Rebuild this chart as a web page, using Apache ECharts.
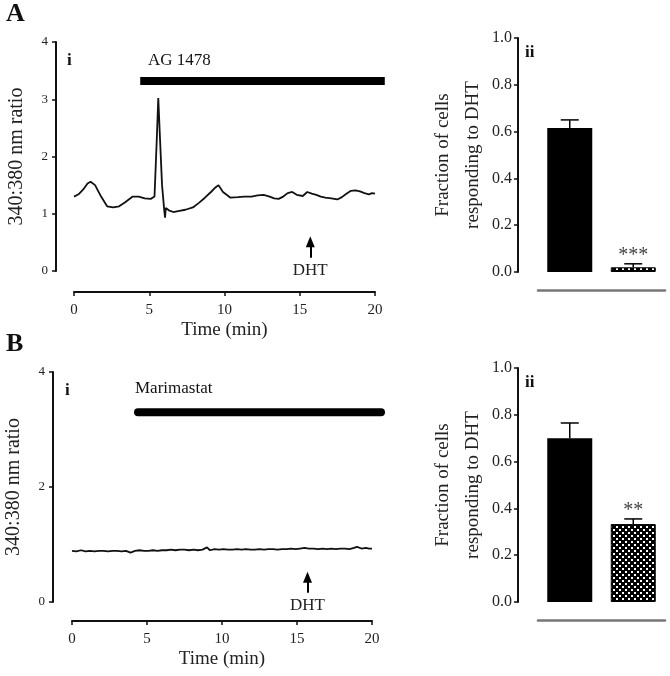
<!DOCTYPE html>
<html><head><meta charset="utf-8">
<script src="https://cdn.jsdelivr.net/npm/echarts@6/dist/echarts.min.js"></script>
<style>html,body{margin:0;padding:0;background:#fff}#c{width:670px;height:676px}</style>
</head><body><div id="c"></div>
<script>
// ---------- DATA ----------
const traceA = [[0,1.30],[0.3,1.34],[0.6,1.42],[0.9,1.53],[1.1,1.56],[1.4,1.50],[1.8,1.30],[2.2,1.13],[2.6,1.11],[3.0,1.13],[3.4,1.20],[3.9,1.30],[4.3,1.30],[4.7,1.27],[5.1,1.26],[5.35,1.30],[5.5,2.30],[5.6,3.02],[5.7,2.40],[5.85,1.50],[6.0,1.05],[6.05,0.93],[6.1,1.10],[6.3,1.06],[6.6,1.03],[7.0,1.05],[7.4,1.07],[7.9,1.11],[8.3,1.19],[8.7,1.28],[9.1,1.38],[9.4,1.46],[9.6,1.50],[9.9,1.38],[10.4,1.28],[10.9,1.29],[11.3,1.30],[11.8,1.30],[12.2,1.32],[12.6,1.33],[13.0,1.30],[13.3,1.27],[13.6,1.26],[13.9,1.30],[14.2,1.36],[14.5,1.38],[14.8,1.33],[15.2,1.31],[15.5,1.38],[15.8,1.35],[16.1,1.33],[16.4,1.30],[16.7,1.28],[17.1,1.27],[17.5,1.25],[17.8,1.29],[18.1,1.35],[18.4,1.40],[18.7,1.41],[19.0,1.39],[19.3,1.36],[19.6,1.34],[19.8,1.36],[20.0,1.35]];
const traceB = [[0,0.89],[0.3,0.88],[0.6,0.90],[0.9,0.88],[1.2,0.89],[1.5,0.88],[1.8,0.89],[2.1,0.89],[2.4,0.88],[2.7,0.89],[3.0,0.89],[3.3,0.88],[3.6,0.89],[3.9,0.86],[4.2,0.89],[4.5,0.90],[4.8,0.89],[5.1,0.89],[5.4,0.90],[5.7,0.89],[6.0,0.90],[6.3,0.90],[6.6,0.91],[6.9,0.90],[7.2,0.91],[7.5,0.91],[7.8,0.90],[8.1,0.91],[8.4,0.90],[8.7,0.91],[9.0,0.95],[9.2,0.90],[9.5,0.92],[9.8,0.91],[10.1,0.92],[10.4,0.91],[10.7,0.91],[11.0,0.92],[11.3,0.91],[11.6,0.92],[11.9,0.91],[12.2,0.91],[12.5,0.92],[12.8,0.91],[13.1,0.92],[13.4,0.92],[13.7,0.91],[14.0,0.92],[14.3,0.92],[14.6,0.93],[14.9,0.92],[15.2,0.93],[15.5,0.94],[15.8,0.93],[16.1,0.93],[16.4,0.92],[16.7,0.93],[17.0,0.92],[17.3,0.93],[17.6,0.92],[17.9,0.93],[18.2,0.93],[18.5,0.92],[18.8,0.94],[19.0,0.96],[19.3,0.93],[19.6,0.94],[19.8,0.93],[20.0,0.93]];
const treatA = [4.4, 20.65, 3.32];   // start, end, level
const treatB = [4.4, 20.6, 3.30];
const dhtA = [15.7, 0.23, 0.51];
const dhtB = [15.7, 0.16, 0.43];
const barCats = ['Control','Treated'];
const barA = [0.615, 0.02];
const errA = [0.035, 0.015];
const sigA = ['', '***'];
const barB = [0.70, 0.333];
const errB = [0.065, 0.022];
const sigB = ['', '**'];

// ---------- STYLE ----------
const F = '"Liberation Serif","DejaVu Serif",serif';
const TXT = '#222';
const AX = {onZero:false, lineStyle:{color:'#111',width:2}};

const pc = document.createElement('canvas');
pc.width = 6; pc.height = 6;
const g = pc.getContext('2d');
g.fillStyle = '#000'; g.fillRect(0,0,6,6);
g.fillStyle = '#fff'; g.fillRect(1,1,2,2); g.fillRect(4,4,2,2);

function timeX(gi, off){
  return {type:'value', gridIndex:gi, min:0, max:20, interval:5, offset:off,
    axisLine:{show:true, ...AX}, axisTick:{show:true,length:4,lineStyle:{color:'#111',width:1.5}},
    axisLabel:{fontFamily:F,fontSize:15,color:TXT,margin:11}, splitLine:{show:false},
    name:'Time (min)', nameLocation:'middle', nameGap:29,
    nameTextStyle:{fontFamily:F,fontSize:19,color:TXT}};
}
function ratioY(gi, interval, off){
  return {type:'value', gridIndex:gi, min:0, max:4, interval:interval, offset:off,
    axisLine:{show:true, ...AX}, axisTick:{show:true,length:4,lineStyle:{color:'#111',width:1.5}},
    axisLabel:{fontFamily:F,fontSize:13,color:TXT,margin:8}, splitLine:{show:false},
    name:'340:380 nm ratio', nameLocation:'middle', nameGap:29,
    nameTextStyle:{fontFamily:F,fontSize:20,color:TXT}};
}
function catX(gi){
  return {type:'category', gridIndex:gi, data:barCats, offset:18,
    axisLine:{show:true,onZero:false,lineStyle:{color:'#777',width:2.5}}, axisTick:{show:false}, axisLabel:{show:false}};
}
function fracY(gi){
  return {type:'value', gridIndex:gi, min:0, max:1, interval:0.2, offset:20,
    axisLine:{show:true, ...AX}, axisTick:{show:true,length:4,lineStyle:{color:'#111',width:1.5}},
    axisLabel:{fontFamily:F,fontSize:16,color:TXT,margin:6,formatter:v=>v.toFixed(1)}, splitLine:{show:false},
    name:'Fraction of cells\nresponding to DHT', nameLocation:'middle', nameGap:27,
    nameTextStyle:{fontFamily:F,fontSize:19,color:TXT,lineHeight:30}};
}
function trace(gi, data, dht){
  return {type:'line', xAxisIndex:gi, yAxisIndex:gi, data:data, showSymbol:false, symbol:'none',
    lineStyle:{color:'#111',width:1.8}, silent:true,
    markLine:{silent:true, symbol:['none','triangle'], symbolSize:[9,11], animation:false,
      lineStyle:{color:'#000',width:2,type:'solid'},
      label:{show:true,position:'start',formatter:'DHT',fontFamily:F,fontSize:17,color:TXT,distance:4},
      data:[[{coord:[dht[0],dht[1]]},{coord:[dht[0],dht[2]]}]]}};
}
function treat(gi, t, cap){
  return {type:'custom', xAxisIndex:gi, yAxisIndex:gi, silent:true, clip:false,
    data:[t],
    renderItem:(params, api)=>{
      const a = api.coord([api.value(0), api.value(2)]);
      const b = api.coord([api.value(1), api.value(2)]);
      return {type:'line', shape:{x1:a[0],y1:a[1],x2:b[0],y2:b[1]},
        style:{stroke:'#000',lineWidth:8,lineCap:cap}};
    }};
}
function bars(gi, vals){
  return {type:'bar', xAxisIndex:gi, yAxisIndex:gi, barWidth:45, silent:true,
    data:[{value:vals[0],itemStyle:{color:'#000'}},
          {value:vals[1],itemStyle:{color:{image:pc,repeat:'repeat'},borderColor:'#000',borderWidth:1}}]};
}
function errs(gi, vals, es, sig){
  return {type:'custom', xAxisIndex:gi, yAxisIndex:gi, silent:true, z:5,
    data: vals.map((v,i)=>[i, v, es[i]]),
    renderItem:(params, api)=>{
      const i = api.value(0), v = api.value(1), e = api.value(2);
      const p0 = api.coord([i, v]), p1 = api.coord([i, v+e]);
      return {type:'group', children:[
        {type:'line', shape:{x1:p0[0],y1:p0[1],x2:p1[0],y2:p1[1]}, style:{stroke:'#000',lineWidth:1.5}},
        {type:'line', shape:{x1:p1[0]-9,y1:p1[1],x2:p1[0]+9,y2:p1[1]}, style:{stroke:'#000',lineWidth:1.5}},
        {type:'text', style:{text:sig[i], x:p1[0], y:p1[1]+2, align:'center', verticalAlign:'bottom',
          font:'20px '+F, fill:'#444'}}
      ]};
    }};
}
function txt(x,y,s,size,bold){
  return {type:'text', left:x, top:y, style:{text:s, font:(bold?'bold ':'')+size+'px '+F, fill:'#111'}};
}

const chart = echarts.init(document.getElementById('c'), null, {renderer:'canvas'});
chart.setOption({
  animation:false,
  backgroundColor:'#fff',
  grid:[
    {left:74, top:42, width:301, height:229},
    {left:538, top:38, width:127, height:234},
    {left:72, top:372, width:300, height:230},
    {left:538, top:368, width:127, height:234}
  ],
  xAxis:[timeX(0,21), catX(1), timeX(2,19), catX(3)],
  yAxis:[ratioY(0,1,18), fracY(1), ratioY(2,2,19), fracY(3)],
  series:[
    trace(0, traceA, dhtA), treat(0, treatA, 'butt'),
    bars(1, barA), errs(1, barA, errA, sigA),
    trace(2, traceB, dhtB), treat(2, treatB, 'round'),
    bars(3, barB), errs(3, barB, errB, sigB)
  ],
  graphic:[
    txt(6,1,'A',26,true), txt(6,331,'B',26,true),
    txt(67,52,'i',17,true), txt(65,382,'i',17,true),
    txt(525,44,'ii',17,true), txt(525,374,'ii',17,true),
    txt(148,52,'AG 1478',17,false), txt(135,380,'Marimastat',17,false)
  ]
});
</script></body></html>
